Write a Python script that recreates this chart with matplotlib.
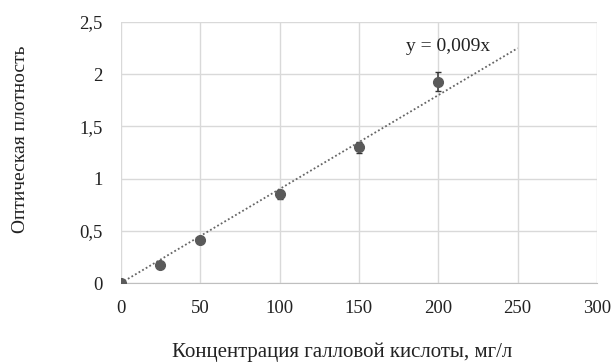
import matplotlib
matplotlib.use('Agg')
import matplotlib.pyplot as plt
import numpy as np

# калибровочная кривая по галловой кислоте
conc = [0, 25, 50, 100, 150, 200]
od = [0.0, 0.17, 0.41, 0.85, 1.30, 1.93]
od_err = [0.01, 0.02, 0.02, 0.04, 0.05, 0.09]
slope = 0.009
xticks = [0, 50, 100, 150, 200, 250, 300]
yticks = [0, 0.5, 1, 1.5, 2, 2.5]

plt.rcParams['font.family'] = ['Liberation Serif', 'DejaVu Serif']

fig = plt.figure(figsize=(6.13, 3.62), dpi=100)
ax = fig.add_axes([0.197, 0.218, 0.777, 0.721])

xt = np.array([0, 250])
ax.plot(xt, slope * xt, color='#666666', linestyle=(0, (1, 1.3)), linewidth=1.3, zorder=2)
ax.errorbar(conc, od, yerr=od_err, fmt='o', color='#5a5a5a', markersize=7,
            ecolor='#333333', elinewidth=1.1, capsize=2.5, zorder=3)
ax.text(206, 2.27, 'y = 0,009x', fontsize=14, ha='center', va='center', color='#222222')

ax.set_xlim(0, 300)
ax.set_ylim(0, 2.5)
ax.set_xticks(xticks)
ax.set_yticks(yticks)
ax.set_xticklabels([str(v) for v in xticks])
ax.set_yticklabels([str(v).replace('.', ',') for v in yticks])
ax.grid(True, color='#d9d9d9', linewidth=1)
ax.set_axisbelow(True)
for s in ['top', 'right', 'left']:
    ax.spines[s].set_visible(False)
ax.spines['bottom'].set_color('#bfbfbf')
ax.tick_params(length=0, labelsize=13.5, colors='#222222')
ax.tick_params(axis='x', pad=12)
ax.tick_params(axis='y', pad=13)
ax.set_xlabel('Концентрация галловой кислоты, мг/л', fontsize=15, color='#222222', va='center')
ax.set_ylabel('Оптическая плотность', fontsize=14, color='#222222', va='center')
ax.xaxis.set_label_coords(0.465, -0.264)
ax.yaxis.set_label_coords(-0.21, 0.55)

fig.savefig('out.png', dpi=100)
